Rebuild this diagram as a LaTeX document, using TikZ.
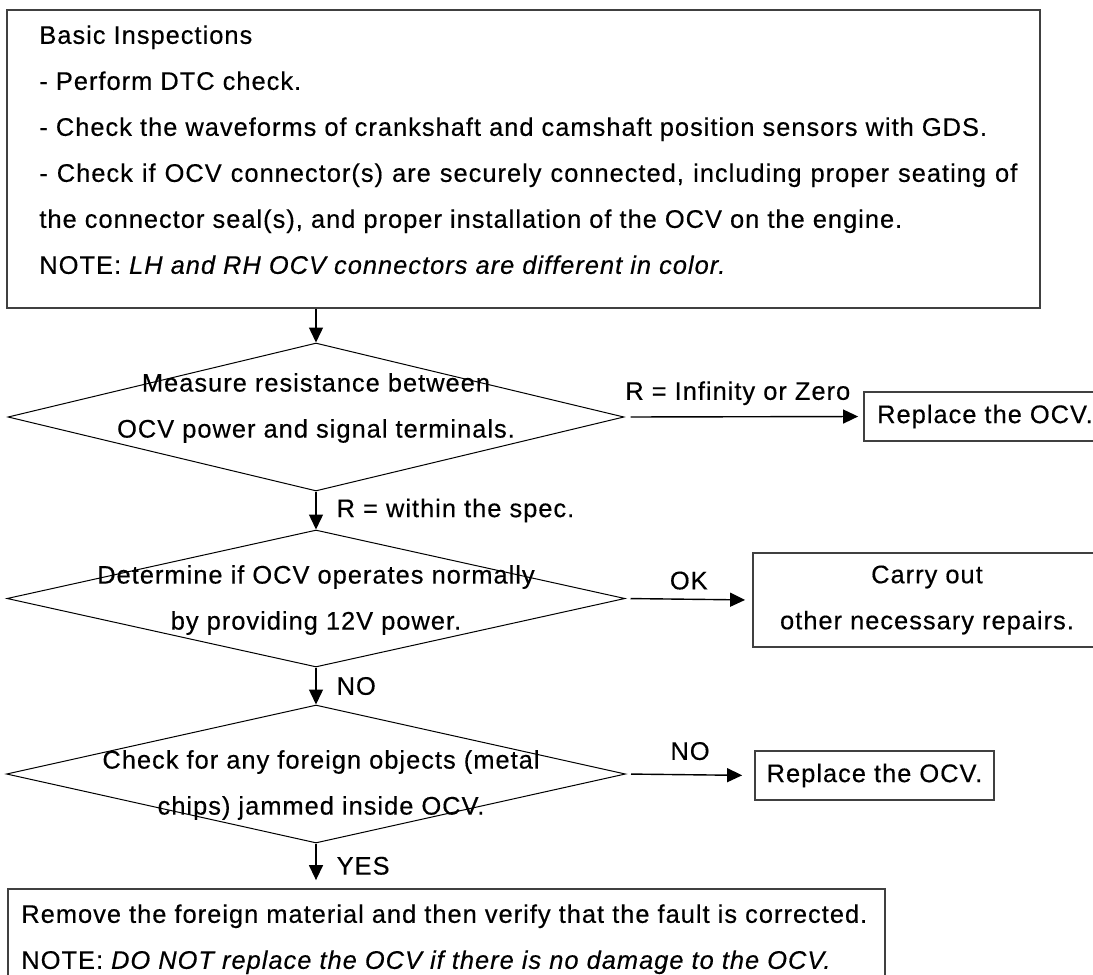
\documentclass[tikz,border=0pt]{standalone}
\usepackage{fontspec}
\setmainfont{Liberation Sans}[LetterSpace=4,FakeBold=0.4]
\usetikzlibrary{arrows.meta,shapes.geometric}

\begin{document}
\begin{tikzpicture}[
  x=0.5pt, y=-0.5pt,
  font=\fontsize{12.7}{23}\selectfont,
  box/.style={draw=black!75, line width=0.9pt, inner sep=0pt},
  decision/.style={draw, shape=diamond, line width=0.5pt, inner sep=0pt},
  qtext/.style={inner sep=0pt, align=center},
  plaintext/.style={inner sep=0pt, align=left},
  flow/.style={-{Triangle[length=7.5pt,width=7pt]}, line width=0.7pt},
  lbl/.style={inner sep=0pt}
]

% Canvas, 1093 x 975 px
\path[use as bounding box] (0,0) rectangle (1093,975);

% Basic inspections
\node[box, minimum width=516.5pt, minimum height=149pt] (inspect) at (523.5,159) {};
\node[plaintext, anchor=north west] (inspecttext) at (39,25) {Basic Inspections\\
  - Perform DTC check.\\
  - Check the waveforms of crankshaft and camshaft position sensors with GDS.\\
  \makebox[489pt][s]{- Check if OCV connector(s) are securely connected, including proper seating of}\\
  the connector seal(s), and proper installation of the OCV on the engine.\\
  NOTE: \textit{LH and RH OCV connectors are different in color.}};

% Decisions
\node[decision, minimum width=308pt, minimum height=74pt] (resist) at (316,417) {};
\node[qtext] (resisttext) at (316,408) {Measure resistance between\\OCV power and signal terminals.};

\node[decision, minimum width=309pt, minimum height=68.5pt] (operate) at (316,598.5) {};
\node[qtext] (operatetext) at (316,600) {Determine if OCV operates normally\\by providing 12V power.};

\node[decision, minimum width=309.5pt, minimum height=69pt] (foreign) at (316,774) {};
\node[qtext] (foreigntext) at (321,785) {Check for any foreign objects (metal\\chips) jammed inside OCV.};

% Results
\node[box, minimum width=121pt, minimum height=24.5pt] (replaceA) at (985,416.5) {Replace the OCV.};
\node[box, minimum width=174pt, minimum height=47pt, align=center] (repairs) at (927,600)
  {Carry out\\other necessary repairs.};
\node[box, minimum width=119.5pt, minimum height=24.5pt] (replaceB) at (874.5,775.5) {Replace the OCV.};

\node[box, minimum width=438.5pt, minimum height=54pt] (remove) at (446.5,943) {};
\node[plaintext, anchor=north west] (removetext) at (21,904)
  {Remove the foreign material and then verify that the fault is corrected.\\
  NOTE: \textit{DO NOT replace the OCV if there is no damage to the OCV.}};

% Flow
\draw[flow] (inspect.south -| resist.north) -- (resist.north);
\draw[flow] (resist.south) -- node[lbl, right=10pt] {R = within the spec.} (operate.north);
\draw[flow, shorten <=3pt, shorten >=2.5pt] (resist.east) --
  node[lbl, above=5.5pt, xshift=-3pt] {R = Infinity or Zero} (replaceA.west);

\draw[flow, shorten <=2.5pt, shorten >=3.5pt] (operate.east) --
  node[lbl, above=4.5pt] {OK} (repairs.west);
\draw[flow] (operate.south) -- node[lbl, right=10pt] {NO} (foreign.north);

\draw[flow, shorten <=2.5pt, shorten >=6pt] (foreign.east) --
  node[lbl, above=7pt] {NO} (replaceB.west);
\draw[flow, shorten >=4pt] (foreign.south) -- node[lbl, right=10pt] {YES} (foreign.south |- remove.north);

\end{tikzpicture}
\end{document}
